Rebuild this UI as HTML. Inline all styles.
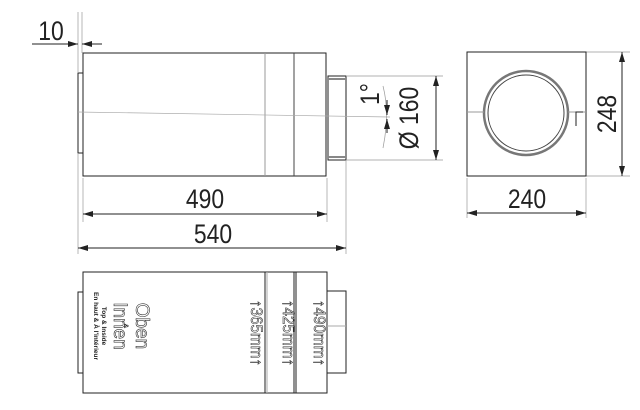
<!DOCTYPE html>
<html><head><style>
body{margin:0;background:#fff}
svg{display:block;font-family:"Liberation Sans",sans-serif}
</style></head><body>
<svg width="640" height="410" viewBox="0 0 640 410">
<defs><marker id="a" markerWidth="10" markerHeight="6" refX="10" refY="3" orient="auto-start-reverse" markerUnits="userSpaceOnUse"><path d="M0,0L10,3L0,6z" fill="#222"/></marker></defs>
<g fill="none" stroke="#222" stroke-width="1">
<rect x="83" y="53" width="243" height="123"/>
<path d="M83,73H78V153H83"/>
<line x1="265" y1="53" x2="265" y2="176" stroke="#999"/>
<line x1="294" y1="53" x2="294" y2="176" stroke="#444"/>
<rect x="328" y="76" width="18" height="84"/>
<line x1="328" y1="79" x2="346" y2="79" stroke="#888" stroke-width="2"/>
<line x1="328" y1="157" x2="346" y2="157" stroke="#888" stroke-width="2"/>
<line x1="78" y1="112" x2="390" y2="117" stroke="#aaa" stroke-width="0.7"/>
<g stroke="#999" stroke-width="0.7">
<line x1="78" y1="12" x2="78" y2="73"/><line x1="82" y1="12" x2="82" y2="53"/>
<line x1="83" y1="178" x2="83" y2="222"/><line x1="327" y1="178" x2="327" y2="222"/>
<line x1="78" y1="153" x2="78" y2="254"/><line x1="346" y1="160" x2="346" y2="254"/>
<line x1="346" y1="76" x2="443" y2="76"/><line x1="346" y1="160" x2="443" y2="160"/>
<path d="M383,86Q390,113 383,148"/>
<line x1="467" y1="178" x2="467" y2="218"/><line x1="586" y1="178" x2="586" y2="218"/>
<line x1="586" y1="52" x2="630" y2="52"/><line x1="586" y1="176" x2="630" y2="176"/>
</g>
<line x1="32" y1="44" x2="78" y2="44" marker-end="url(#a)"/>
<line x1="102" y1="44" x2="82" y2="44" marker-end="url(#a)"/>
<line x1="83" y1="214" x2="327" y2="214" marker-start="url(#a)" marker-end="url(#a)"/>
<line x1="78" y1="248" x2="346" y2="248" marker-start="url(#a)" marker-end="url(#a)"/>
<line x1="436" y1="76" x2="436" y2="160" marker-start="url(#a)" marker-end="url(#a)"/>
<line x1="387" y1="100" x2="387" y2="115" marker-end="url(#a)"/>
<line x1="387" y1="133" x2="387" y2="119" marker-end="url(#a)"/>
<rect x="467" y="52" width="119" height="124"/>
<circle cx="526" cy="113" r="42" stroke="#777" stroke-width="2.5"/>
<circle cx="526" cy="113" r="38" stroke="#444"/>
<line x1="467" y1="112" x2="484" y2="112" stroke="#999"/>
<line x1="568" y1="112" x2="586" y2="112" stroke="#999"/>
<path d="M583,112H576V126"/>
<line x1="622" y1="52" x2="622" y2="176" marker-start="url(#a)" marker-end="url(#a)"/>
<line x1="467" y1="213" x2="586" y2="213" marker-start="url(#a)" marker-end="url(#a)"/>
<rect x="83" y="272" width="244" height="121"/>
<path d="M83,292H78V373H83"/>
<line x1="265" y1="272" x2="265" y2="393"/><line x1="267" y1="272" x2="267" y2="393" stroke="#aaa"/>
<line x1="294" y1="272" x2="294" y2="393"/><line x1="296" y1="272" x2="296" y2="393"/>
<rect x="327" y="291" width="19" height="82"/>
<line x1="327" y1="326" x2="346" y2="326" stroke="#aaa"/>
</g>
<g fill="#222" font-size="27" text-anchor="middle">
<text transform="translate(51,40) scale(0.85,1)">10</text>
<text transform="translate(205,208) scale(0.85,1)">490</text>
<text transform="translate(213,243) scale(0.85,1)">540</text>
<text transform="translate(527,208) scale(0.85,1)">240</text>
<text transform="translate(418,118) rotate(-90) scale(0.85,1)">Ø 160</text>
<text transform="translate(379,94) rotate(-90) scale(0.85,1)">1°</text>
<text transform="translate(616,114) rotate(-90) scale(0.85,1)">248</text>
</g>
<g fill="none" stroke="#333" stroke-width="0.6" font-size="17" text-anchor="middle">
<text transform="translate(314,333) rotate(90) scale(0.9,1)">↑490mm↑</text>
<text transform="translate(283,333) rotate(90) scale(0.9,1)">↑425mm↑</text>
<text transform="translate(251,333) rotate(90) scale(0.9,1)">↑365mm↑</text>
<text transform="translate(136,326) rotate(90)" font-size="19">Oben</text>
<text transform="translate(114,326) rotate(90)" font-size="19">Innen</text>
</g>
<g fill="#222" text-anchor="middle" font-size="6.5" font-weight="bold">
<text transform="translate(124,326) rotate(90)">&amp;</text>
<text transform="translate(102,326) rotate(90)">Top &amp; Inside</text>
<text transform="translate(94,326) rotate(90)">En haut &amp; À l'intérieur</text>
</g>
</svg>
</body></html>
